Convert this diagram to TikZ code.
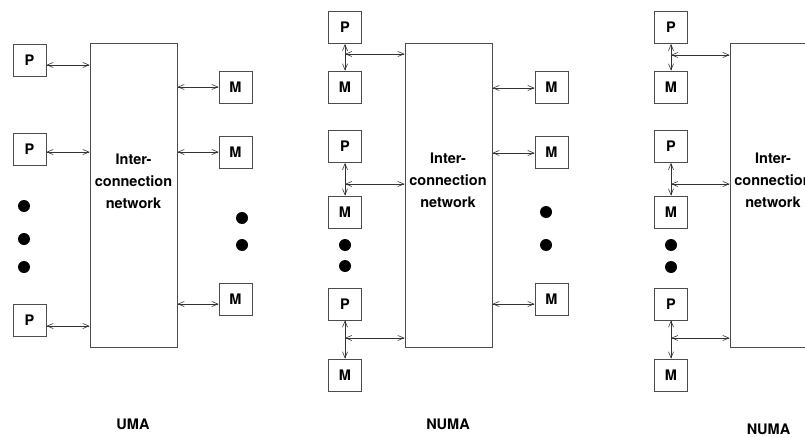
\documentclass[tikz,border=0pt]{standalone}
\usepackage{fontspec}
\setmainfont{TeX Gyre Heros}
\usetikzlibrary{arrows.meta}

\tikzset{
  unit/.style={draw=black!70,line width=0.8pt,fill=white,minimum width=33pt,minimum height=32pt,inner sep=0pt},
  net/.style={draw=black!70,line width=0.8pt,minimum width=87pt,minimum height=304pt,inner sep=0pt},
  link/.style={{Straight Barb[length=6pt,width=5pt]}-{Straight Barb[length=6pt,width=5pt]},black!80,line width=0.6pt},
  every node/.append style={font=\bfseries\fontsize{14.5}{22}\selectfont}
}

\begin{document}
\begin{tikzpicture}[x=1pt,y=-1pt]
\useasboundingbox (0,0) rectangle (805,436);
\clip (0,0) rectangle (805,436);

% UMA
\node[net] (net1) at (133.5,195.5) {};
\node[align=center] (txt1) at (133.5,181) {Inter-\\connection\\network};
\node[unit] (p11) at (29.5,60) {P};
\node[unit] (p12) at (29.5,149) {P};
\node[unit] (p13) at (29.5,320.5) {P};
\node[unit] (m11) at (235.5,87) {M};
\node[unit] (m12) at (235.5,152.5) {M};
\node[unit] (m13) at (235.5,299) {M};
\draw[link] (p11.east |- 0,65) -- (net1.west |- 0,65);
\draw[link] (p12.east |- 0,152) -- (net1.west |- 0,152);
\draw[link] (p13.east |- 0,326) -- (net1.west |- 0,326);
\draw[link] (net1.east |- 0,87) -- (m11.west |- 0,87);
\draw[link] (net1.east |- 0,152) -- (m12.west |- 0,152);
\draw[link] (net1.east |- 0,304) -- (m13.west |- 0,304);
\fill (24,206) circle (6pt) (24,239) circle (6pt) (24,267) circle (6pt);
\fill (242,218) circle (6pt) (242,245) circle (6pt);
\node (uma) at (133,424.5) {UMA};

% NUMA
\node[net] (net2) at (448.5,195.5) {};
\node[align=center] (txt2) at (448,180.5) {Inter-\\connection\\network};
\node[unit] (p21) at (345,27.5) {P};
\node[unit] (p22) at (345,146.5) {P};
\node[unit] (p23) at (345,304) {P};
\node[unit] (m21) at (345,87) {M};
\node[unit] (m22) at (345,212) {M};
\node[unit] (m23) at (345,375) {M};
\node[unit] (m24) at (551.5,87) {M};
\node[unit] (m25) at (551.5,152.5) {M};
\node[unit] (m26) at (551.5,299) {M};
\coordinate (j21) at (345,54);
\coordinate (j22) at (345,184);
\coordinate (j23) at (345,338);
\draw[link] (p21) -- (m21);
\draw[link] (p22) -- (m22);
\draw[link] (p23) -- (m23);
\draw[link] (j21) -- (net2.west |- j21);
\draw[link] (j22) -- (net2.west |- j22);
\draw[link] (j23) -- (net2.west |- j23);
\draw[link] (net2.east |- 0,88) -- (m24.west |- 0,88);
\draw[link] (net2.east |- 0,153) -- (m25.west |- 0,153);
\draw[link] (net2.east |- 0,304) -- (m26.west |- 0,304);
\fill (345,245) circle (6pt) (345,266) circle (6pt);
\fill (546,212) circle (6pt) (546,245) circle (6pt);
\node (numa1) at (448,424.5) {NUMA};

% NUMA (cut off)
\node[net] (net3) at (773.5,195.5) {};
\node[align=center] (txt3) at (773,180.5) {Inter-\\connection\\network};
\node[unit] (p31) at (671,27.5) {P};
\node[unit] (p32) at (671,146.5) {P};
\node[unit] (p33) at (671,304) {P};
\node[unit] (m31) at (671,87) {M};
\node[unit] (m32) at (671,212) {M};
\node[unit] (m33) at (671,375) {M};
\coordinate (j31) at (671,55);
\coordinate (j32) at (671,184);
\coordinate (j33) at (671,338);
\draw[link] (p31) -- (m31);
\draw[link] (p32) -- (m32);
\draw[link] (p33) -- (m33);
\draw[link] (j31) -- (net3.west |- j31);
\draw[link] (j32) -- (net3.west |- j32);
\draw[link] (j33) -- (net3.west |- j33);
\fill (671,245) circle (6pt) (671,267) circle (6pt);
\node (numa2) at (768.5,429) {NUMA};

\end{tikzpicture}
\end{document}
